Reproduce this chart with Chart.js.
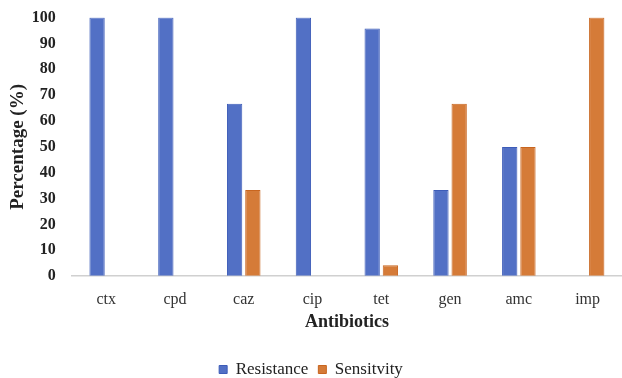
<!DOCTYPE html>
<html>
<head>
<meta charset="utf-8">
<script src="https://cdn.jsdelivr.net/npm/chart.js@4/dist/chart.umd.min.js"></script>
<style>
  html, body { margin: 0; padding: 0; background: #ffffff; }
  #wrap { width: 622px; height: 378px; }
</style>
</head>
<body>
<div id="wrap"><canvas id="chart"></canvas></div>
<script>
// Antibiotic panel and percentages per outcome
const antibiotics = ['ctx', 'cpd', 'caz', 'cip', 'tet', 'gen', 'amc', 'imp'];
const resistance  = [100, 100, 66.7, 100, 95.8, 33.3, 50, 0];
const sensitivity = [0, 0, 33.3, 0, 4.2, 66.7, 50, 100];
const yTicks = [0, 10, 20, 30, 40, 50, 60, 70, 80, 90, 100];

const serif = '"Liberation Serif", "Times New Roman", serif';

new Chart(document.getElementById('chart'), {
  type: 'bar',
  data: {
    labels: antibiotics,
    datasets: [
      {
        label: 'Resistance',
        data: resistance,
        backgroundColor: '#5270c5',
        borderColor: '#3d5cb8',
        borderWidth: 1
      },
      {
        label: 'Sensitvity',
        data: sensitivity,
        backgroundColor: '#d57b38',
        borderColor: '#c8651f',
        borderWidth: 1
      }
    ]
  },
  options: {
    responsive: true,
    maintainAspectRatio: false,
    animation: false,
    layout: { padding: { left: 0, right: 0, top: 0, bottom: -10 } },
    datasets: {
      bar: { categoryPercentage: 0.53, barPercentage: 0.84 }
    },
    plugins: {
      legend: {
        position: 'bottom',
        labels: {
          boxWidth: 8,
          boxHeight: 8,
          padding: 10,
          color: '#222',
          font: { family: serif, size: 17 }
        }
      },
      tooltip: { enabled: false }
    },
    scales: {
      x: {
        grid: { display: false, drawTicks: false },
        border: { display: true, color: '#d0d0d0', width: 1.5 },
        ticks: { color: '#333', font: { family: serif, size: 16 }, padding: 14 },
        title: {
          display: true,
          text: 'Antibiotics',
          color: '#222',
          font: { family: serif, size: 18, weight: 'bold' },
          padding: { top: -12, bottom: 18 }
        }
      },
      y: {
        min: 0,
        max: 100,
        afterBuildTicks: (axis) => { axis.ticks = yTicks.map(v => ({ value: v })); },
        // invisible tick marks keep a gap between the labels and the bars
        grid: {
          display: true,
          drawOnChartArea: false,
          drawTicks: true,
          tickLength: 8,
          color: 'rgba(0,0,0,0)'
        },
        border: { display: false },
        ticks: { color: '#222', font: { family: serif, size: 16, weight: 'bold' }, padding: 8 },
        title: {
          display: true,
          text: 'Percentage (%)',
          color: '#222',
          font: { family: serif, size: 19, weight: 'bold' },
          padding: { top: 7, bottom: -6 }
        }
      }
    }
  }
});
</script>
</body>
</html>
